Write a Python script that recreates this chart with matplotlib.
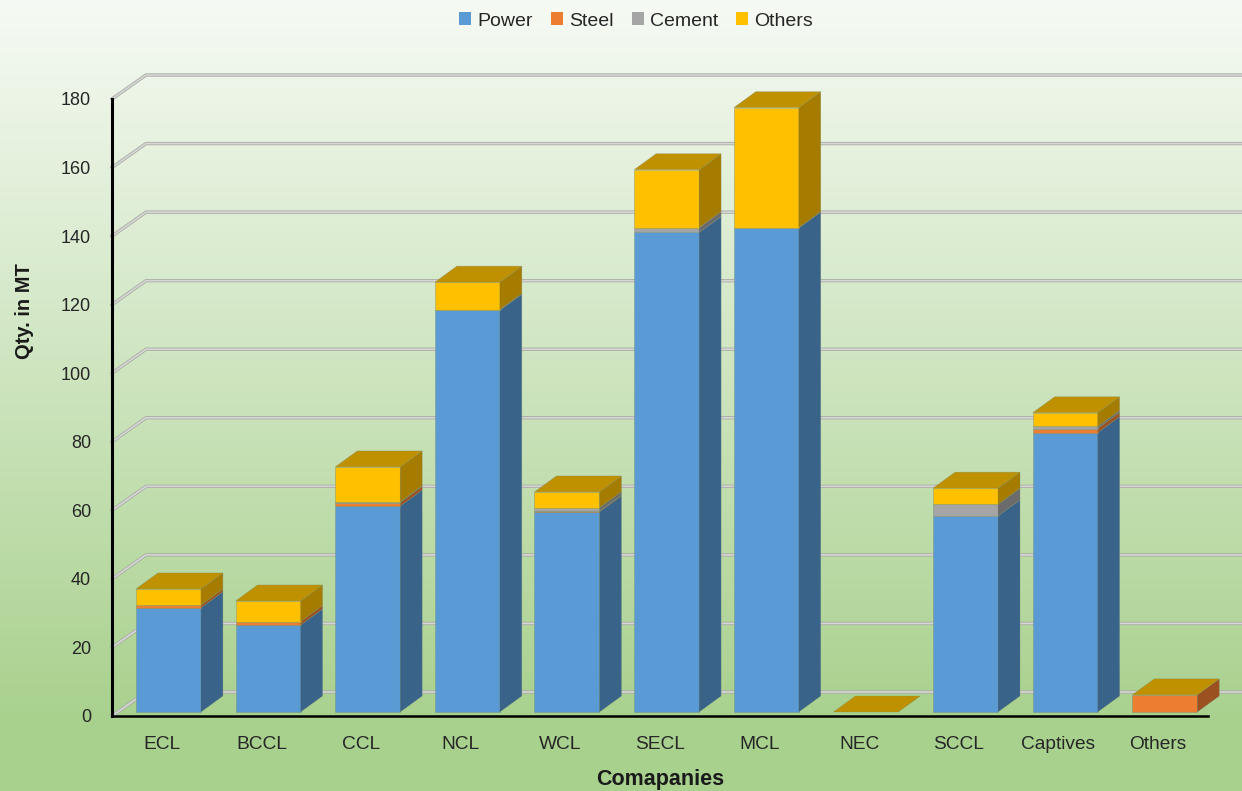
import numpy as np
import matplotlib
matplotlib.use("Agg")
import matplotlib.pyplot as plt
from matplotlib.patches import Patch, Polygon

plt.rcParams['font.family'] = ['Liberation Sans', 'DejaVu Sans']

# Dados (MT)
companies = ["ECL", "BCCL", "CCL", "NCL", "WCL", "SECL", "MCL", "NEC", "SCCL", "Captives", "Others"]
power = [30.4, 25.4, 60.1, 117.2, 58.4, 139.9, 141.2, 0, 57.2, 81.5, 0]
steel = [0.8, 1.0, 1.0, 0, 0.2, 0, 0, 0, 0, 1.2, 5.0]
cement = [0, 0, 0.2, 0.2, 1.0, 1.4, 0.1, 0, 3.4, 0.6, 0]
others = [4.7, 6.0, 10.2, 8.0, 4.6, 16.9, 35.0, 0, 4.7, 4.0, 0]
y_ticks = list(range(0, 181, 20))

series = [
    ("Power", power, "#5B9BD5", "#3A6389"),
    ("Steel", steel, "#ED7D31", "#9C5120"),
    ("Cement", cement, "#A5A5A5", "#6B6B6B"),
    ("Others", others, "#FFC000", "#A67C00"),
]
top_color = "#BF9000"
edge = (0.45, 0.55, 0.45, 0.45)

W, H = 1242, 791
fig = plt.figure(figsize=(W / 100, H / 100), dpi=100)

# Fundo em degradê
bg = fig.add_axes([0, 0, 1, 1], zorder=0)
c_top = np.array([246, 250, 244]) / 255
c_bot = np.array([169, 209, 142]) / 255
frac = np.clip(np.linspace(0, 1, H) / 0.91, 0, 1)[:, None, None]
bg.imshow(c_top[None, None, :] * (1 - frac) + c_bot[None, None, :] * frac, aspect="auto")
bg.axis("off")

ax = fig.add_axes([112 / W, (H - 716) / H, 1096 / W, 617 / H], zorder=1)
ax.patch.set_alpha(0)
ax.set_xlim(-0.5, 10.5)
ax.set_ylim(0, 180)

# Profundidade em unidades dos dados
px_x = 1096 / 11
px_y = 617 / 180
wall_dx, wall_dy = 34 / px_x, 24 / px_y
gap_dx, gap_dy = 6.6 / px_x, 4 / px_y
bar_dx, bar_dy = 22 / px_x, 16 / px_y
width = 65 / px_x

# Linhas de grade na parede de fundo
for v in y_ticks:
    gx = [-0.5, -0.5 + wall_dx, 10.5 + wall_dx]
    gy = [v, v + wall_dy, v + wall_dy]
    ax.plot(gx, gy, color="#a9ada3", lw=2.4, clip_on=False, zorder=1, solid_joinstyle="miter")
    ax.plot(gx, gy, color="#d6d6d6", lw=1.2, clip_on=False, zorder=1.1, solid_joinstyle="miter")

x = np.arange(len(companies))
bottom = np.zeros(len(companies)) + gap_dy
for name, vals, front, side in series:
    vals = np.array(vals, dtype=float)
    mask = vals > 0
    ax.bar(x[mask] + gap_dx, vals[mask], width, bottom=bottom[mask], color=front,
           edgecolor=edge, linewidth=0.6, clip_on=False, zorder=3)
    for i in x[mask]:
        r = i + gap_dx + width / 2
        b, t = bottom[i], bottom[i] + vals[i]
        ax.add_patch(Polygon([(r, b), (r + bar_dx, b + bar_dy), (r + bar_dx, t + bar_dy), (r, t)],
                             facecolor=side, edgecolor=edge, linewidth=0.4, clip_on=False, zorder=3))
    bottom = bottom + vals

# Tampa de cada barra
for i in x:
    l = i + gap_dx - width / 2
    r = l + width
    t = bottom[i]
    ax.add_patch(Polygon([(l, t), (r, t), (r + bar_dx, t + bar_dy), (l + bar_dx, t + bar_dy)],
                         facecolor=top_color, edgecolor=edge, linewidth=0.4, clip_on=False, zorder=3.2))

ax.spines["top"].set_visible(False)
ax.spines["right"].set_visible(False)
ax.spines["left"].set_linewidth(2.2)
ax.spines["bottom"].set_linewidth(1.8)
ax.spines["left"].set_zorder(4)
ax.spines["bottom"].set_zorder(4)

ax.set_xticks(x)
ax.set_xticklabels(companies)
ax.set_yticks(y_ticks)
ax.tick_params(axis="x", length=0, pad=14.5, labelsize=13.8, labelcolor="#262626")
ax.tick_params(axis="y", length=0, pad=15, labelsize=13, labelcolor="#262626")

ax.set_xlabel("Comapanies", fontsize=15.5, fontweight="bold", color="#1a1a1a")
ax.set_ylabel("Qty. in MT", fontsize=14.5, fontweight="bold", color="#1a1a1a")
ax.xaxis.set_label_coords(0.5, (716 - 780) / 617)
ax.yaxis.set_label_coords((24 - 112) / 1096, (716 - 311) / 617)
ax.xaxis.label.set_va("center")
ax.yaxis.label.set_va("center")

handles = [Patch(facecolor=s[2], label=s[0]) for s in series]
fig.legend(handles=handles, ncol=4, loc="center", bbox_to_anchor=(636 / W, 1 - 21 / H),
           frameon=False, fontsize=14, handlelength=0.62, handleheight=0.62,
           handletextpad=0.3, columnspacing=0.95, labelcolor="#262626")

fig.savefig("out.png", dpi=100)
